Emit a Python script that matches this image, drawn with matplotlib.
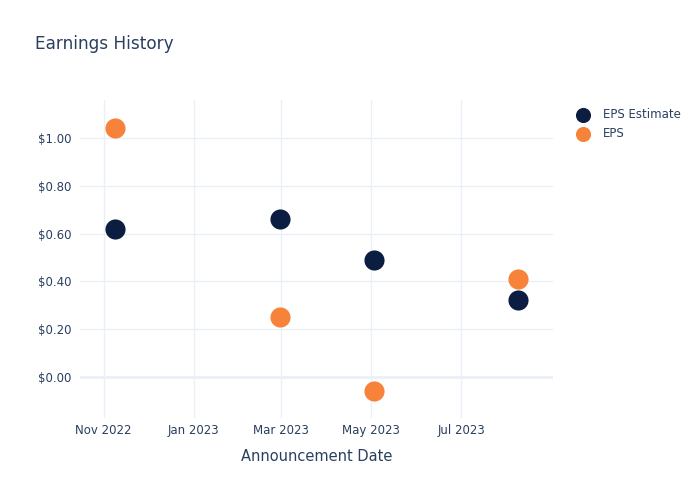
import matplotlib
matplotlib.use("Agg")
import matplotlib.pyplot as plt
import numpy as np

# values
dates = np.array(["2022-11-09", "2023-02-28", "2023-05-03", "2023-08-08"], dtype="datetime64[D]")
eps_estimate = [0.62, 0.66, 0.49, 0.32]
eps_actual = [1.04, 0.25, -0.06, 0.41]
y_ticks = [0.0, 0.2, 0.4, 0.6, 0.8, 1.0]
x_ticks = np.array(["2022-11-01", "2023-01-01", "2023-03-01", "2023-05-01", "2023-07-01"], dtype="datetime64[D]")
x_tick_labels = ["Nov 2022", "Jan 2023", "Mar 2023", "May 2023", "Jul 2023"]

TEXT = "#2a3f5f"
GRID = "#ebf0f8"
NAVY = "#0b1d40"
ORANGE = "#f7823a"

plt.rcParams["font.family"] = ["DejaVu Sans"]

fig = plt.figure(figsize=(7, 5), dpi=100)
ax = fig.add_axes([80 / 700, 1 - 418 / 500, (553 - 80) / 700, (418 - 100) / 500])

ax.scatter(dates, eps_estimate, s=210, color=NAVY, label="EPS Estimate", zorder=3, linewidths=0)
ax.scatter(dates, eps_actual, s=210, color=ORANGE, label="EPS", zorder=3, linewidths=0)

ax.set_xlim(np.datetime64("2022-10-16"), np.datetime64("2023-09-01"))
ax.set_ylim(-0.172, 1.159)

ax.set_xticks(x_ticks)
ax.set_xticklabels(x_tick_labels)
ax.set_yticks(y_ticks)
ax.set_yticklabels([f"${v:.2f}" for v in y_ticks])

ax.grid(True, color=GRID, linewidth=1, zorder=0)
ax.axhline(0, color=GRID, linewidth=2, zorder=1)
for side in ax.spines.values():
    side.set_visible(False)
ax.tick_params(length=0, colors=TEXT, labelsize=8.5)
ax.tick_params(axis="x", pad=4)
ax.tick_params(axis="y", pad=6)

ax.set_xlabel("Announcement Date", color=TEXT, fontsize=10.5, labelpad=9)
fig.text(35 / 700, 1 - 44 / 500, "Earnings History", color=TEXT, fontsize=12.2, va="center", ha="left")

leg = ax.legend(loc="upper left", bbox_to_anchor=(1.02, 1.0), frameon=False,
                fontsize=8.5, labelcolor=TEXT, handletextpad=0.72, borderaxespad=0.3,
                labelspacing=0.48, markerscale=0.75)

fig.savefig("out.png", dpi=100)
